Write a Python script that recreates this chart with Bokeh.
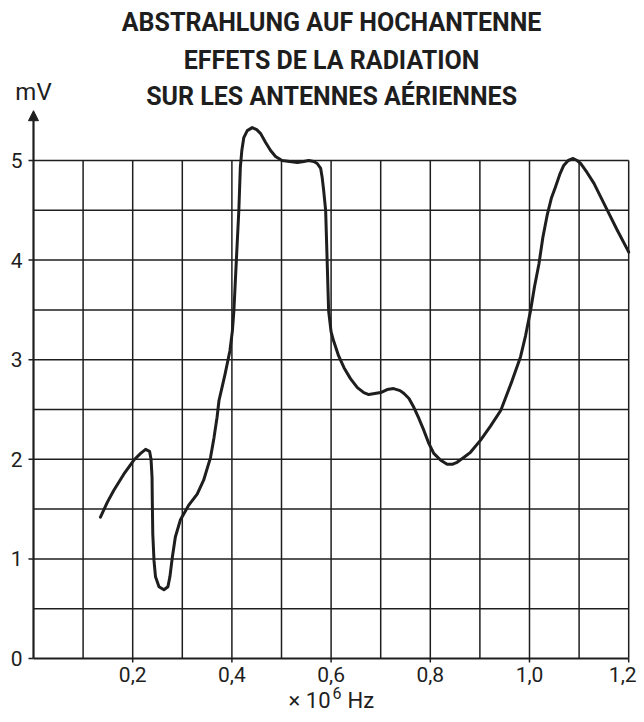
from bokeh.plotting import figure
from bokeh.models import Range1d, Arrow, NormalHead
from bokeh.core.properties import value
from bokeh.embed import file_html
from bokeh.resources import INLINE

# ---- data ----
title_lines = ["ABSTRAHLUNG AUF HOCHANTENNE",
               "EFFETS DE LA RADIATION",
               "SUR LES ANTENNES AÉRIENNES"]
y_unit = "mV"
x_unit_parts = ["× 10", "6", "Hz"]

x_ticks = [0.2, 0.4, 0.6, 0.8, 1.0, 1.2]
x_tick_labels = ["0,2", "0,4", "0,6", "0,8", "1,0", "1,2"]
x_label_shift = [0, 0, 0, 0, 0, -6]
y_ticks = [0, 1, 2, 3, 4, 5]
y_tick_labels = ["0", "1", "2", "3", "4", "5"]

x_grid = [0.1, 0.2, 0.3, 0.4, 0.5, 0.6, 0.7, 0.8, 0.9, 1.0, 1.1, 1.2]
y_grid = [0.5, 1.0, 1.5, 2.0, 2.5, 3.0, 3.5, 4.0, 4.5, 5.0]

freq = [0.135, 0.149, 0.162, 0.182, 0.202, 0.216, 0.226, 0.234, 0.237, 0.239,
        0.2395, 0.2405, 0.243, 0.246, 0.253, 0.263, 0.271, 0.275, 0.280, 0.286,
        0.296, 0.313, 0.330, 0.343, 0.357, 0.364, 0.370, 0.374, 0.380, 0.386,
        0.396, 0.401, 0.404, 0.409, 0.414, 0.417, 0.420, 0.424, 0.431, 0.441,
        0.450, 0.458, 0.468, 0.478, 0.488, 0.501, 0.532, 0.545, 0.555, 0.565,
        0.572, 0.579, 0.582, 0.585, 0.589, 0.592, 0.595, 0.600, 0.605, 0.615,
        0.626, 0.639, 0.653, 0.666, 0.676, 0.700, 0.713, 0.726, 0.739, 0.747,
        0.757, 0.767, 0.777, 0.787, 0.797, 0.807, 0.821, 0.834, 0.844, 0.854,
        0.868, 0.881, 0.901, 0.921, 0.942, 0.965, 0.982, 0.992, 1.002, 1.010,
        1.019, 1.027, 1.036, 1.044, 1.052, 1.061, 1.069, 1.078, 1.088, 1.096,
        1.103, 1.116, 1.130, 1.143, 1.157, 1.177, 1.197, 1.200]
mv = [1.42, 1.57, 1.69, 1.85, 1.99, 2.06, 2.10, 2.08, 2.00, 1.82,
      1.59, 1.25, 0.98, 0.82, 0.72, 0.69, 0.72, 0.82, 1.02, 1.22,
      1.39, 1.54, 1.65, 1.79, 2.02, 2.22, 2.42, 2.59, 2.72, 2.85,
      3.09, 3.29, 3.49, 4.00, 4.50, 4.93, 5.10, 5.23, 5.30, 5.33,
      5.31, 5.27, 5.18, 5.10, 5.04, 5.00, 4.98, 4.99, 5.00, 4.99,
      4.97, 4.92, 4.83, 4.70, 4.50, 4.00, 3.49, 3.28, 3.19, 3.04,
      2.92, 2.81, 2.72, 2.67, 2.65, 2.67, 2.70, 2.71, 2.69, 2.66,
      2.61, 2.52, 2.41, 2.29, 2.16, 2.06, 1.99, 1.95, 1.95, 1.97,
      2.02, 2.07, 2.19, 2.33, 2.49, 2.79, 3.03, 3.24, 3.49, 3.73,
      3.96, 4.23, 4.46, 4.62, 4.73, 4.86, 4.95, 5.00, 5.02, 5.00,
      4.97, 4.88, 4.77, 4.64, 4.50, 4.30, 4.11, 4.08]

INK = "#1e1e1e"
FONT = "Roboto"

# the frame fills the whole canvas; every element is placed in data units
p = figure(width=636, height=714,
           x_range=Range1d(-0.06653, 1.21573), y_range=Range1d(-0.5622, 6.6064),
           output_backend="svg", toolbar_location=None,
           min_border=0)
p.outline_line_color = None
p.grid.visible = False
p.axis.visible = False

# grid
p.segment(x0=x_grid, y0=[0] * len(x_grid), x1=x_grid, y1=[5] * len(x_grid),
          line_color=INK, line_width=1.5)
p.segment(x0=[0] * len(y_grid), y0=y_grid, x1=[1.2] * len(y_grid), y1=y_grid,
          line_color=INK, line_width=1.5)
# x axis line and ticks
p.segment(x0=[0], y0=[0], x1=[1.2], y1=[0], line_color=INK, line_width=2.2)
p.segment(x0=x_ticks, y0=[-0.04] * len(x_ticks), x1=x_ticks, y1=[0] * len(x_ticks),
          line_color=INK, line_width=1.5)
# y axis with arrow and ticks
p.add_layout(Arrow(x_start=0, y_start=0, x_end=0, y_end=5.5,
                   line_color=INK, line_width=2.2,
                   end=NormalHead(size=10, fill_color=INK, line_color=INK, line_width=1)))
p.segment(x0=[-0.0101] * len(y_ticks), y0=y_ticks, x1=[0] * len(y_ticks), y1=y_ticks,
          line_color=INK, line_width=1.5)

# curve
p.line(freq, mv, line_color=INK, line_width=3, line_join="round", line_cap="round")

# tick labels
p.text(x=x_ticks, y=[-0.165] * len(x_ticks), text=x_tick_labels, x_offset=x_label_shift,
       text_align="center", text_baseline="middle",
       text_font=value(FONT), text_font_size="21px", text_color=INK)
p.text(x=[-0.0222] * len(y_ticks), y=y_ticks, text=y_tick_labels,
       text_align="right", text_baseline="middle",
       text_font=value(FONT), text_font_size="21px", text_color=INK)

# titles and unit labels
p.text(x=[0.601] * 3, y=[6.386, 6.004, 5.643], text=title_lines,
       text_align="center", text_baseline="middle",
       text_font=value(FONT), text_font_style="bold",
       text_font_size="25px", text_color=INK)
p.text(x=[0.0], y=[5.683], text=[y_unit],
       text_align="center", text_baseline="middle",
       text_font=value(FONT), text_font_size="24px", text_color=INK)
p.text(x=[0.5988], y=[-0.42], text=[x_unit_parts[0]],
       text_align="right", text_baseline="middle",
       text_font=value(FONT), text_font_size="22px", text_color=INK)
p.text(x=[0.6028], y=[-0.345], text=[x_unit_parts[1]],
       text_align="left", text_baseline="middle",
       text_font=value(FONT), text_font_size="16px", text_color=INK)
p.text(x=[0.633], y=[-0.42], text=[x_unit_parts[2]],
       text_align="left", text_baseline="middle",
       text_font=value(FONT), text_font_size="22px", text_color=INK)

open("out.html", "w").write(file_html(p, INLINE))
